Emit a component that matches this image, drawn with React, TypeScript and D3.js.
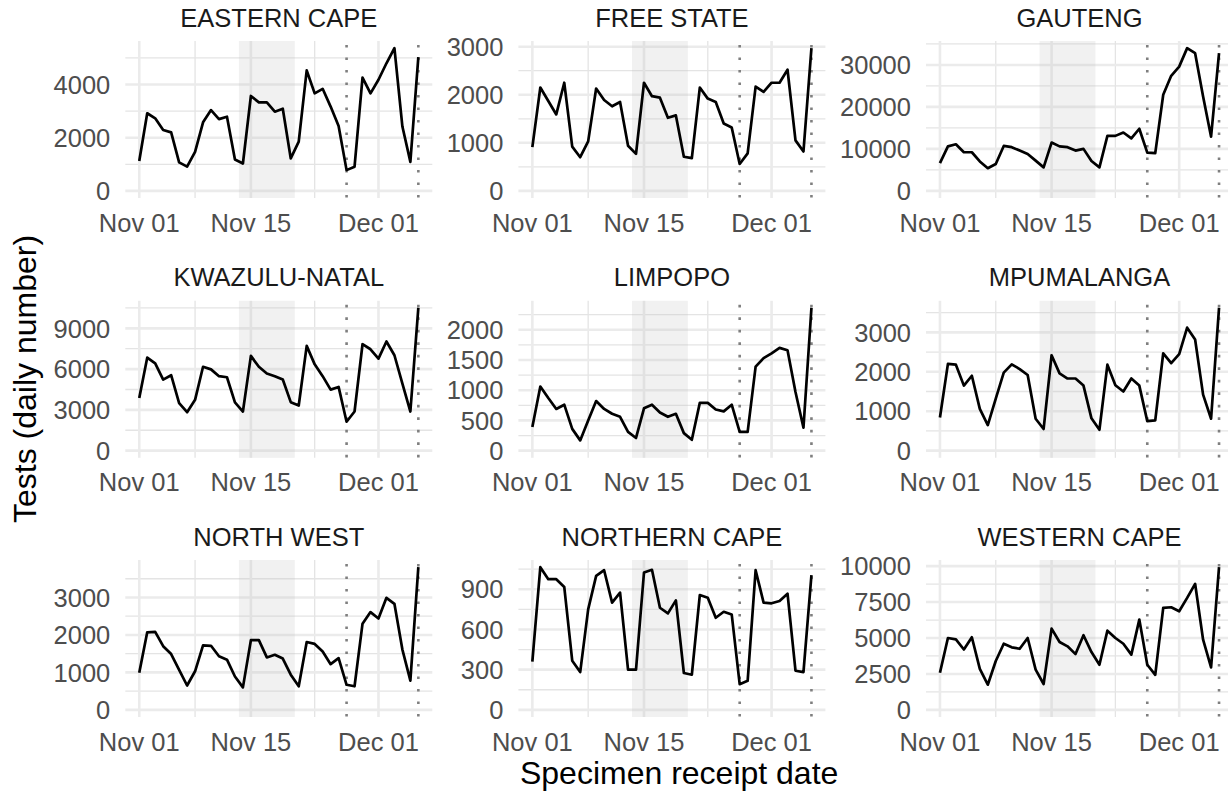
import React from "react";
import * as d3 from "d3";

// ---- data ----
const dates = [
  "2021-11-01", "2021-11-02", "2021-11-03", "2021-11-04", "2021-11-05", "2021-11-06",
  "2021-11-07", "2021-11-08", "2021-11-09", "2021-11-10", "2021-11-11", "2021-11-12",
  "2021-11-13", "2021-11-14", "2021-11-15", "2021-11-16", "2021-11-17", "2021-11-18",
  "2021-11-19", "2021-11-20", "2021-11-21", "2021-11-22", "2021-11-23", "2021-11-24",
  "2021-11-25", "2021-11-26", "2021-11-27", "2021-11-28", "2021-11-29", "2021-11-30",
  "2021-12-01", "2021-12-02", "2021-12-03", "2021-12-04", "2021-12-05", "2021-12-06",
];

const provinces = [
  "EASTERN CAPE", "FREE STATE", "GAUTENG",
  "KWAZULU-NATAL", "LIMPOPO", "MPUMALANGA",
  "NORTH WEST", "NORTHERN CAPE", "WESTERN CAPE",
];

const easternCape = [1120, 2920, 2730, 2290, 2200, 1070, 910, 1470, 2580, 3040, 2700, 2790, 1180, 1030, 3570, 3330, 3330, 2980, 3090, 1220, 1850, 4530, 3670, 3840, 3170, 2440, 780, 910, 4260, 3670, 4180, 4800, 5370, 2420, 1090, 5030];
const freeState = [910, 2150, 1870, 1590, 2250, 920, 700, 1030, 2130, 1890, 1760, 1850, 940, 770, 2250, 1970, 1940, 1520, 1570, 710, 680, 2150, 1920, 1850, 1400, 1320, 560, 780, 2170, 2060, 2250, 2250, 2520, 1050, 820, 2970];
const gauteng = [6600, 10600, 11100, 9200, 9200, 7000, 5400, 6400, 10700, 10400, 9600, 8800, 7200, 5600, 11500, 10600, 10400, 9600, 10000, 7100, 5600, 13100, 13100, 13900, 12500, 14800, 9100, 9000, 22900, 27400, 29600, 34000, 32800, 22500, 12900, 32800];
const kwazuluNatal = [3870, 6840, 6420, 5230, 5550, 3500, 2830, 3740, 6170, 5980, 5480, 5400, 3550, 2880, 6970, 6170, 5680, 5480, 5230, 3570, 3320, 7710, 6350, 5480, 4490, 4690, 2130, 2880, 7830, 7460, 6770, 8030, 7020, 4930, 2880, 10500];
const limpopo = [390, 1060, 870, 690, 760, 360, 170, 500, 820, 690, 610, 560, 310, 210, 700, 760, 630, 560, 610, 290, 180, 790, 790, 680, 650, 760, 310, 310, 1390, 1530, 1610, 1700, 1660, 970, 380, 2360];
const mpumalanga = [840, 2200, 2180, 1650, 1900, 1060, 650, 1320, 1980, 2190, 2070, 1920, 810, 550, 2420, 1960, 1830, 1830, 1650, 820, 530, 2180, 1660, 1500, 1830, 1650, 750, 770, 2470, 2220, 2450, 3120, 2820, 1420, 810, 3620];
const northWest = [990, 2070, 2080, 1700, 1490, 1070, 650, 1030, 1720, 1710, 1430, 1340, 890, 600, 1860, 1860, 1400, 1470, 1370, 940, 630, 1810, 1760, 1560, 1220, 1380, 670, 630, 2300, 2610, 2440, 2990, 2830, 1610, 780, 3810];
const northernCape = [360, 1065, 975, 975, 917, 367, 282, 750, 1000, 1042, 800, 875, 300, 300, 1025, 1045, 762, 720, 817, 275, 262, 857, 837, 687, 732, 712, 192, 217, 1042, 800, 795, 812, 867, 292, 282, 1005];
const westernCape = [2580, 5000, 4900, 4200, 5050, 2850, 1750, 3400, 4600, 4350, 4250, 5000, 2800, 1800, 5650, 4720, 4420, 3880, 5190, 4020, 3140, 5510, 5000, 4600, 3840, 6280, 3140, 2440, 7090, 7140, 6860, 7790, 8770, 4880, 2950, 9930];

const seriesList = [easternCape, freeState, gauteng, kwazuluNatal, limpopo, mpumalanga, northWest, northernCape, westernCape];

const yBreaks = [
  [0, 2000, 4000],
  [0, 1000, 2000, 3000],
  [0, 10000, 20000, 30000],
  [0, 3000, 6000, 9000],
  [0, 500, 1000, 1500, 2000],
  [0, 1000, 2000, 3000],
  [0, 1000, 2000, 3000],
  [0, 300, 600, 900],
  [0, 2500, 5000, 7500, 10000],
];

const xBreaks = ["2021-11-01", "2021-11-15", "2021-12-01"];
const xBreakLabels = ["Nov 01", "Nov 15", "Dec 01"];
const xMinorBreaks = ["2021-11-08", "2021-11-23"];
const shadeRange = ["2021-11-14", "2021-11-20"];
const markerDates = ["2021-11-27", "2021-12-06"];

// ---- layout ----
const W = 1228;
const H = 794;
const colLeft = [125.3, 518.4, 926];
const rowTop = [41, 300.8, 560];
const PW = 307;
const PH = 157;
const FONT = "'Liberation Sans', Arial, Helvetica, sans-serif";
const TXT = 25.5;
const TTL = 32;

const parse = d3.timeParse("%Y-%m-%d");
const DAY = 24 * 3600 * 1000;

function Panel({ idx }: { idx: number }) {
  const r = Math.floor(idx / 3);
  const c = idx % 3;
  const left = colLeft[c];
  const top = rowTop[r];
  const bottom = top + PH;
  const values = seriesList[idx];
  const ds = dates.map((s) => parse(s) as Date);
  const t0 = ds[0].getTime();
  const t1 = ds[ds.length - 1].getTime();
  const pad = (t1 - t0) * 0.05;
  const x = d3.scaleTime().domain([new Date(t0 - pad), new Date(t1 + pad)]).range([left, left + PW]);
  const vmax = d3.max(values) as number;
  const vmin = Math.min(0, d3.min(values) as number);
  const span = vmax - vmin;
  const y = d3.scaleLinear().domain([vmin - span * 0.05, vmax + span * 0.05]).range([bottom, top]);
  const majors = yBreaks[idx];
  const step = majors[1] - majors[0];
  const minors: number[] = [];
  for (let i = 0; i < majors.length; i++) {
    const m = majors[i] + step / 2;
    if (m <= y.domain()[1]) minors.push(m);
  }
  const line = d3
    .line<number>()
    .x((_, i) => x(ds[i]))
    .y((v) => y(v));
  const sx0 = x(new Date((parse(shadeRange[0]) as Date).getTime() - DAY / 2));
  const sx1 = x(new Date((parse(shadeRange[1]) as Date).getTime() + DAY / 2));
  return (
    <g>
      {minors.map((m) => (
        <line key={"ym" + m} x1={left} x2={left + PW} y1={y(m)} y2={y(m)} stroke="#e4e4e4" strokeWidth={1.3} />
      ))}
      {xMinorBreaks.map((s) => (
        <line key={"xm" + s} x1={x(parse(s) as Date)} x2={x(parse(s) as Date)} y1={top} y2={bottom} stroke="#e4e4e4" strokeWidth={1.3} />
      ))}
      {majors.map((m) => (
        <line key={"yM" + m} x1={left} x2={left + PW} y1={y(m)} y2={y(m)} stroke="#ebebeb" strokeWidth={2.6} />
      ))}
      {xBreaks.map((s) => (
        <line key={"xM" + s} x1={x(parse(s) as Date)} x2={x(parse(s) as Date)} y1={top} y2={bottom} stroke="#ebebeb" strokeWidth={2.6} />
      ))}
      <rect x={sx0} y={top} width={sx1 - sx0} height={PH} fill="#bdbdbd" fillOpacity={0.22} />
      {markerDates.map((s) => (
        <line
          key={"v" + s}
          x1={x(parse(s) as Date)}
          x2={x(parse(s) as Date)}
          y1={top}
          y2={bottom}
          stroke="#7f7f7f"
          strokeWidth={2.6}
          strokeDasharray="2.6 9.9"
          strokeDashoffset={-4}
        />
      ))}
      <path d={line(values) || ""} fill="none" stroke="#000" strokeWidth={2.7} strokeLinejoin="round" />
      {majors.map((m) => (
        <text key={"yl" + m} x={left - 15} y={y(m)} dy="0.36em" textAnchor="end" fontSize={TXT} fill="#4d4d4d" fontFamily={FONT}>
          {m}
        </text>
      ))}
      {xBreaks.map((s, i) => (
        <text key={"xl" + s} x={x(parse(s) as Date)} y={bottom + 33.6} textAnchor="middle" fontSize={TXT} fill="#4d4d4d" fontFamily={FONT}>
          {xBreakLabels[i]}
        </text>
      ))}
      <text x={left + PW / 2} y={top - 14.5} textAnchor="middle" fontSize={TXT} fill="#1a1a1a" fontFamily={FONT}>
        {provinces[idx]}
      </text>
    </g>
  );
}

export default function App() {
  const plotCenterX = (colLeft[0] + colLeft[2] + PW) / 2;
  const plotCenterY = (rowTop[0] + rowTop[2] + PH) / 2;
  return (
    <svg
      width={W}
      height={H}
      viewBox={`0 0 ${W} ${H}`}
      style={{ position: "absolute", left: 0, top: 0, background: "#fff" }}
    >
      <rect x={0} y={0} width={W} height={H} fill="#fff" />
      {provinces.map((_, i) => (
        <Panel key={i} idx={i} />
      ))}
      <text x={plotCenterX} y={784} textAnchor="middle" fontSize={TTL} fill="#000" fontFamily={FONT}>
        Specimen receipt date
      </text>
      <text
        transform={`translate(36, ${plotCenterY}) rotate(-90)`}
        textAnchor="middle"
        fontSize={TTL}
        fill="#000"
        fontFamily={FONT}
      >
        Tests (daily number)
      </text>
    </svg>
  );
}
